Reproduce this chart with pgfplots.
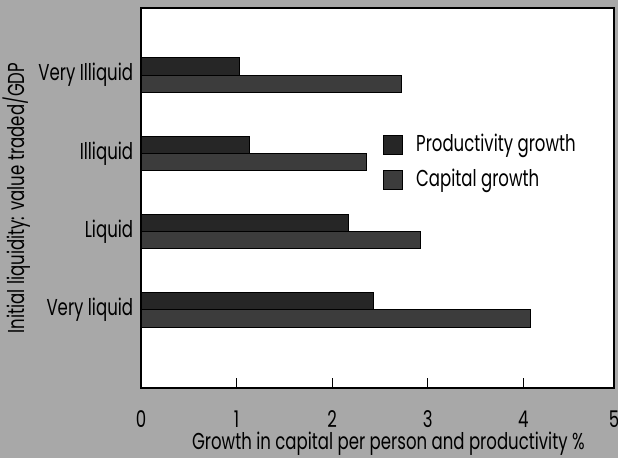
\documentclass[border=0pt]{standalone}
\usepackage{fontspec}
\setmainfont[FakeStretch=0.72]{Poppins}
\usepackage{pgfplots}
\pgfplotsset{compat=1.18}
\definecolor{bg}{RGB}{168,168,168}
\definecolor{prod}{RGB}{38,38,38}
\definecolor{capg}{RGB}{60,60,60}
\begin{document}
\fontsize{23pt}{27pt}\selectfont
\begin{tikzpicture}
\useasboundingbox (0,0) rectangle (618pt,458pt);
\fill[bg] (0,0) rectangle (618pt,458pt);
\begin{axis}[
  at={(141pt,70pt)}, anchor=south west,
  scale only axis, width=473pt, height=380pt,
  xbar,
  xmin=0, xmax=4.95, ymin=-1, ymax=3.857,
  axis background/.style={fill=white},
  axis line style={line width=1.6pt, black},
  xtick={0,1,2,3,4},
  xtick pos=left,
  tick align=inside,
  major tick length=10pt,
  xtick style={line width=1.2pt, black},
  ytick={0,1,2,3},
  yticklabels={Very liquid, Liquid, Illiquid, Very Illiquid},
  ytick style={draw=none},
  xticklabel style={anchor=center, yshift=-31pt},
  /pgf/number format/assume math mode=true,
  xlabel={Growth in capital per person and productivity \%},
  xlabel style={at={(axis description cs:0.523,-0.161)}, anchor=base, inner sep=0pt},
  ylabel={Initial liquidity: value traded/GDP},
  ylabel style={at={(axis description cs:-0.262,0.5)}, anchor=center},
  bar width=0.22,
  legend image code/.code={\draw[#1,line width=0.8pt] (0pt,-9.5pt) rectangle (19pt,9.5pt); \path (30pt,0pt);},
  legend cell align=left,
  legend style={draw=none, fill=none, at={(0.512,0.674)}, anchor=north west, inner sep=0pt, row sep=10pt},
  clip=false,
]
\addplot[fill=prod, draw=black, line width=0.8pt, bar shift=0.11] coordinates {(2.43,0) (2.17,1) (1.13,2) (1.03,3)};
\addplot[fill=capg, draw=black, line width=0.8pt, bar shift=-0.11] coordinates {(4.08,0) (2.92,1) (2.36,2) (2.72,3)};
\legend{Productivity growth, Capital growth}
\node at (rel axis cs:1,0) [yshift=-31pt] {5};
\end{axis}
\end{tikzpicture}
\end{document}
